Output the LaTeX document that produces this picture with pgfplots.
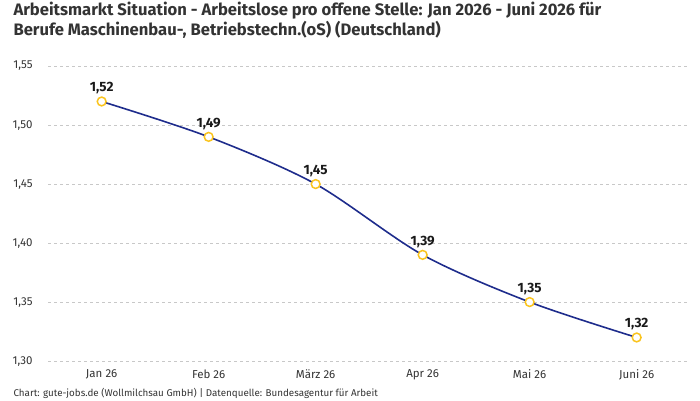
\documentclass[border=0pt]{standalone}
\usepackage{pgfplots}
\pgfplotsset{compat=1.18}
\usepackage{fontspec}
\setmainfont{Fira Sans}
\definecolor{txt}{RGB}{51,51,51}
\definecolor{linie}{RGB}{30,44,140}
\definecolor{punkt}{RGB}{250,196,30}
\definecolor{gitter}{RGB}{200,200,200}
\begin{document}
\begin{tikzpicture}[x=1pt,y=1pt]
\path[use as bounding box] (0,0) rectangle (700,400);
% Titel
\node[anchor=west,text=txt,font=\fontsize{16.6}{19}\selectfont\bfseries] at (10,389) {Arbeitsmarkt Situation - Arbeitslose pro offene Stelle: Jan 2026 - Juni 2026 für};
\node[anchor=west,text=txt,font=\fontsize{16.6}{19}\selectfont\bfseries] at (10,370) {Berufe Maschinenbau-, Betriebstechn.(oS) (Deutschland)};
% Quelle
\node[anchor=west,text=txt,font=\fontsize{9.8}{11}\selectfont] at (10,7) {Chart: gute-jobs.de (Wollmilchsau GmbH) | Datenquelle: Bundesagentur für Arbeit};
\begin{axis}[
  at={(45,33)}, anchor=south west,
  width=642pt, height=295pt, scale only axis,
  xmin=-0.5, xmax=5.5,
  ymin=1.30, ymax=1.55,
  ytick={1.30,1.35,1.40,1.45,1.50,1.55},
  xtick={0,1,2,3,4,5},
  xticklabels={Jan 26,Feb 26,März 26,Apr 26,Mai 26,Juni 26},
  axis line style={draw=none},
  major tick length=0pt,
  ymajorgrids,
  grid style={gitter, dashed, line width=0.6pt},
  tick label style={text=txt, font=\fontsize{11.5}{13}\selectfont},
  yticklabel style={anchor=east, xshift=-12pt},
  xticklabel style={yshift=-5pt},
  /pgf/number format/.cd, use comma, fixed, fixed zerofill, precision=2, assume math mode=true,
  /pgfplots/.cd,
  clip=false,
]
\addplot[
  linie, line width=1.6pt, smooth, tension=0.5,
  mark=*, mark size=4.4pt,
  mark options={draw=punkt, fill=white, line width=1.5pt},
  nodes near coords,
  point meta=y,
  nodes near coords style={text=black!90, font=\fontsize{13.5}{15}\selectfont\bfseries, anchor=south, yshift=3pt,
    /pgf/number format/.cd, use comma, fixed, fixed zerofill, precision=2, assume math mode=true},
] coordinates {
  (0,1.52) (1,1.49) (2,1.45) (3,1.39) (4,1.35) (5,1.32)
};
\end{axis}
\end{tikzpicture}
\end{document}
